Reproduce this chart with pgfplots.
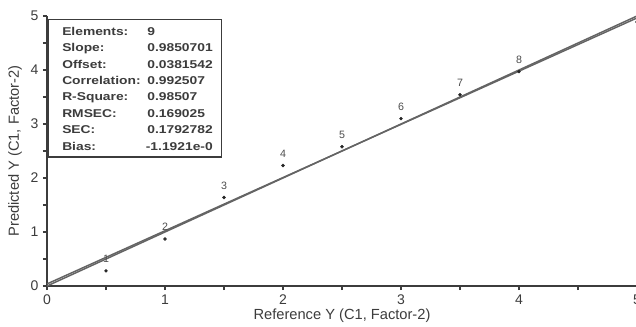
\documentclass[border=0pt]{standalone}
\usepackage{pgfplots}
\pgfplotsset{compat=1.18}
\usepackage{fontspec}
\setmainfont{Liberation Sans}
\usepackage{graphicx}
\definecolor{axisgray}{RGB}{60,60,60}
\definecolor{linegray}{RGB}{100,100,100}
\begin{document}
\begin{tikzpicture}
\begin{axis}[
  at={(0,0)}, anchor=south west,
  scale only axis, width=442.5pt, height=202.5pt,
  xmin=0, xmax=5, ymin=0, ymax=5,
  axis lines=left,
  axis line style={-, axisgray, line width=1.4pt},
  xtick={0,1,2,3,4,5}, ytick={0,1,2,3,4,5},
  minor tick num=1,
  tick align=outside,
  major tick length=3pt, minor tick length=3pt,
  tick style={axisgray, line width=0.8pt},
  /pgf/number format/assume math mode=true,
  ticklabel style={font=\fontsize{10.5}{12}\selectfont, text=axisgray},
  xlabel={Reference Y (C1, Factor-2)},
  ylabel={Predicted Y (C1, Factor-2)},
  label style={font=\fontsize{11}{13}\selectfont, text=axisgray},
  xlabel style={at={(axis description cs:0.5,-0.111)}, anchor=center},
  ylabel style={at={(axis description cs:-0.0542,0.5)}, anchor=center},
  clip=false,
]
\addplot[linegray, line width=1.1pt] coordinates {(0,0.0381542) (5,4.9635047)};
\addplot[linegray, line width=1.1pt] coordinates {(0,0) (5,5)};
\addplot[only marks, mark=*, mark size=1.1pt, black!85,
  nodes near coords, point meta=explicit symbolic,
  nodes near coords style={font=\fontsize{8}{9}\selectfont, text=black!70, anchor=south, inner sep=0pt, yshift=6pt}]
  table[meta=label] {
x y label
0.5 0.28 1
1.0 0.87 2
1.5 1.64 3
2.0 2.23 4
2.5 2.58 5
3.0 3.10 6
3.5 3.54 7
4.0 3.97 8
};
\addplot[only marks, mark=*, mark size=1.1pt, black!85,
  nodes near coords, point meta=explicit symbolic,
  nodes near coords style={font=\fontsize{8}{9}\selectfont, text=black!70, anchor=north west, inner sep=0pt, yshift=-3pt, xshift=1pt}]
  table[meta=label] {
x y label
5.0 4.89 9
};
\draw[axisgray, line width=1pt, fill=white] (axis cs:0.01,2.39) rectangle (axis cs:1.48,4.93);
\node[anchor=north west, inner sep=0pt] at (axis cs:0.127,4.86) {\scalebox{1.22}[1]{\fontsize{8.5}{12.3}\selectfont\bfseries\color{axisgray}\begin{tabular}[t]{@{}l@{}}
Elements:\\ Slope:\\ Offset:\\ Correlation:\\ R-Square:\\ RMSEC:\\ SEC:\\ Bias:
\end{tabular}}};
\node[anchor=north east, inner sep=0pt] at (axis cs:1.407,4.86) {\scalebox{1.22}[1]{\fontsize{8.5}{12.3}\selectfont\bfseries\color{axisgray}\begin{tabular}[t]{@{}r@{}}
9\hphantom{.9850701}\\ 0.9850701\\ 0.0381542\\ 0.992507\hphantom{0}\\ 0.98507\hphantom{00}\\ 0.169025\hphantom{0}\\ 0.1792782\\ -1.1921e-0
\end{tabular}}};
\end{axis}
\pgfresetboundingbox
\useasboundingbox (-35.25pt,-30pt) rectangle (441.75pt,214.5pt);
\end{tikzpicture}
\end{document}
